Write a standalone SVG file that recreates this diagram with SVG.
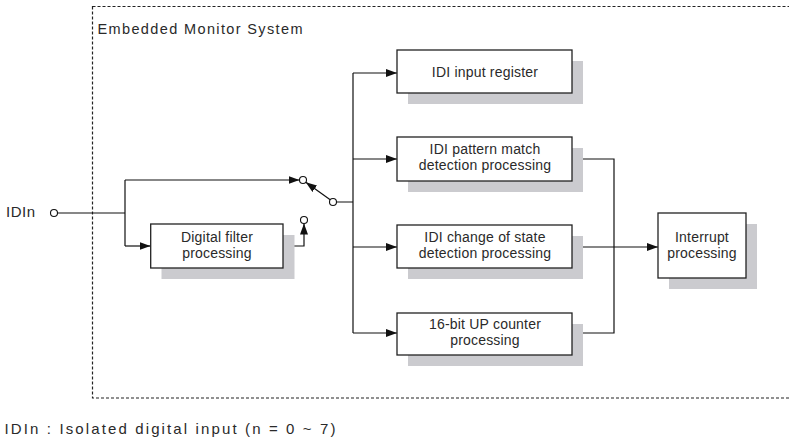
<svg xmlns="http://www.w3.org/2000/svg" width="789" height="439" viewBox="0 0 789 439">
<defs>
<style>
.box{fill:#fff;stroke:#222;stroke-width:1.3}
.sh{fill:#cbcbcf}
.t{font-family:"Liberation Sans",Arial,sans-serif;font-size:14px;fill:#2a2a2a;letter-spacing:0.2px;text-anchor:middle}
.ln{fill:none;stroke:#111;stroke-width:1.2}
.c{fill:#fff;stroke:#111;stroke-width:1.1}
.lb{font-family:"Liberation Sans",Arial,sans-serif;fill:#2a2a2a}
</style>
<marker id="ar" markerUnits="userSpaceOnUse" markerWidth="11" markerHeight="8" refX="11" refY="4" orient="auto">
<path d="M0,0 L11,4 L0,8 z" fill="#111"/>
</marker>
</defs>
<rect width="789" height="439" fill="#fff"/>
<g id="frame">
<rect x="92.5" y="6.5" width="720" height="391.5" fill="none" stroke="#222" stroke-width="1.2" stroke-dasharray="3,2"/>
<text class="lb" x="97.5" y="34" font-size="14.5" textLength="205" lengthAdjust="spacing">Embedded Monitor System</text>
</g>
<g id="connectors">
<circle class="c" cx="54" cy="213" r="3.5"/>
<path class="ln" d="M57.5,213 H125 M125,180 V246"/>
<path class="ln" d="M125,180 H299.5" marker-end="url(#ar)"/>
<path class="ln" d="M125,246 H150.5" marker-end="url(#ar)"/>
<path class="ln" d="M283,246 H304 V223.5" marker-end="url(#ar)"/>
<circle class="c" cx="304" cy="220" r="3.5"/>
<circle class="c" cx="303" cy="180" r="3.5"/>
<circle class="c" cx="333" cy="202" r="3.5"/>
<path class="ln" d="M330.2,199.8 L305.8,182.3" marker-end="url(#ar)"/>
<path class="ln" d="M336.5,202 H353 M353,73 V333"/>
<path class="ln" d="M353,73 H397" marker-end="url(#ar)"/>
<path class="ln" d="M353,159 H397" marker-end="url(#ar)"/>
<path class="ln" d="M353,247 H397" marker-end="url(#ar)"/>
<path class="ln" d="M353,333 H397" marker-end="url(#ar)"/>
<path class="ln" d="M572,159 H614 V333 H572"/>
<path class="ln" d="M572,247 H658" marker-end="url(#ar)"/>
</g>
<g id="digital-filter">
<rect class="sh" x="161.5" y="235" width="133" height="44"/>
<rect class="box" x="150.7" y="224" width="132.3" height="44"/>
<text class="t" x="217" y="241.5">Digital filter</text>
<text class="t" x="217" y="258">processing</text>
</g>
<g id="idi-input-register">
<rect class="sh" x="408" y="61" width="175" height="43"/>
<rect class="box" x="397" y="50" width="175" height="43"/>
<text class="t" x="485" y="77">IDI input register</text>
</g>
<g id="idi-pattern-match">
<rect class="sh" x="408" y="148" width="175" height="44"/>
<rect class="box" x="397" y="137" width="175" height="44"/>
<text class="t" x="485" y="154">IDI pattern match</text>
<text class="t" x="485" y="170">detection processing</text>
</g>
<g id="idi-change-of-state">
<rect class="sh" x="408" y="236" width="175" height="43"/>
<rect class="box" x="397" y="225" width="175" height="43"/>
<text class="t" x="485" y="241.7">IDI change of state</text>
<text class="t" x="485" y="257.5">detection processing</text>
</g>
<g id="up-counter">
<rect class="sh" x="408" y="324" width="175" height="42"/>
<rect class="box" x="397" y="313" width="175" height="42"/>
<text class="t" x="485" y="328.5">16-bit UP counter</text>
<text class="t" x="485" y="344.5">processing</text>
</g>
<g id="interrupt">
<rect class="sh" x="669" y="224" width="88" height="65"/>
<rect class="box" x="658" y="213" width="88" height="65"/>
<text class="t" x="702" y="241.7">Interrupt</text>
<text class="t" x="702" y="258.3">processing</text>
</g>
<g id="idin-label">
<text class="lb" x="6" y="217" font-size="15" textLength="29" lengthAdjust="spacing">IDIn</text>
</g>
<g id="note">
<text class="lb" x="4.5" y="434" font-size="15" textLength="331" lengthAdjust="spacing">IDIn : Isolated digital input (n = 0 ~ 7)</text>
</g>
</svg>
